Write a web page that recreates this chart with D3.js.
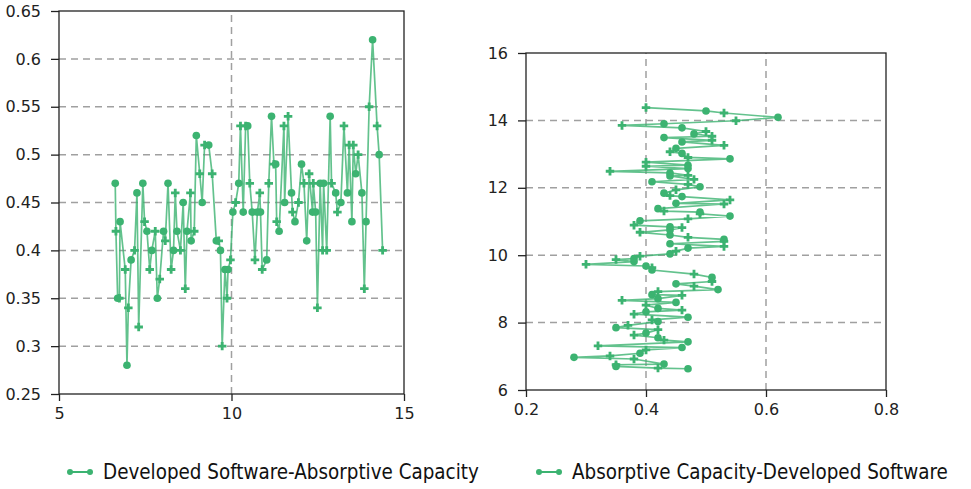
<!DOCTYPE html>
<html>
<head>
<meta charset="utf-8">
<script src="https://cdn.jsdelivr.net/npm/d3@7"></script>
<style>
  body { margin: 0; background: #fff; }
  svg { display: block; }
  .tick text { font-family: "DejaVu Sans", sans-serif; font-size: 16px; fill: #222; }
  .legend text { font-family: "DejaVu Sans Condensed", "DejaVu Sans", sans-serif; font-size: 20.4px; fill: #111; }
</style>
</head>
<body>
<script>
// time values (x on left chart, y on right chart)
const times = [6.63, 6.65, 6.70, 6.75, 6.77, 6.92, 6.97, 7.01, 7.09, 7.19, 7.26, 7.31, 7.43, 7.48, 7.55, 7.63,
    7.69, 7.79, 7.85, 7.92, 8.03, 8.08, 8.16, 8.25, 8.32, 8.37, 8.42, 8.52, 8.60, 8.66, 8.71, 8.81, 8.83, 8.92,
    8.98, 9.08, 9.15, 9.22, 9.34, 9.44, 9.56, 9.63, 9.68, 9.73, 9.81, 9.87, 9.90, 9.97, 10.04, 10.12, 10.21,
    10.26, 10.34, 10.41, 10.47, 10.53, 10.60, 10.68, 10.75, 10.82, 10.84, 10.89, 11.02, 11.08, 11.16, 11.23,
    11.28, 11.31, 11.38, 11.52, 11.54, 11.64, 11.74, 11.77, 11.84, 11.94, 12.03, 12.10, 12.18, 12.25, 12.35,
    12.37, 12.44, 12.49, 12.57, 12.64, 12.67, 12.76, 12.86, 12.90, 13.02, 13.07, 13.17, 13.26, 13.36, 13.41,
    13.49, 13.53, 13.60, 13.67, 13.78, 13.85, 13.90, 13.99, 14.09, 14.22, 14.28, 14.38];
// absorptive capacity / developed software values
const values = [0.47, 0.42, 0.35, 0.35, 0.43, 0.38, 0.28, 0.34, 0.39, 0.40, 0.46, 0.32, 0.47, 0.43, 0.42, 0.38,
    0.40, 0.42, 0.35, 0.37, 0.42, 0.41, 0.47, 0.38, 0.40, 0.46, 0.42, 0.40, 0.45, 0.36, 0.42, 0.46, 0.41, 0.42,
    0.52, 0.48, 0.45, 0.51, 0.51, 0.48, 0.41, 0.41, 0.40, 0.30, 0.38, 0.35, 0.38, 0.39, 0.44, 0.45, 0.47,
    0.53, 0.44, 0.53, 0.53, 0.47, 0.44, 0.39, 0.44, 0.46, 0.44, 0.38, 0.39, 0.47, 0.54, 0.49, 0.49, 0.43,
    0.42, 0.53, 0.45, 0.54, 0.46, 0.44, 0.43, 0.45, 0.49, 0.47, 0.41, 0.48, 0.44, 0.47, 0.44, 0.34, 0.47,
    0.40, 0.47, 0.40, 0.54, 0.47, 0.46, 0.44, 0.45, 0.53, 0.46, 0.51, 0.43, 0.51, 0.48, 0.50, 0.46, 0.36,
    0.43, 0.55, 0.62, 0.53, 0.50, 0.40];

const leftXTicks = [5, 10, 15];
const leftYTicks = [0.25, 0.3, 0.35, 0.4, 0.45, 0.5, 0.55, 0.6, 0.65];
const rightXTicks = [0.2, 0.4, 0.6, 0.8];
const rightYTicks = [6, 8, 10, 12, 14, 16];
const legendLabels = ["Developed Software-Absorptive Capacity", "Absorptive Capacity-Developed Software"];

const green = "#3cb371";
const width = 971, height = 489;

let svg = d3.select("body").append("svg")
    .attr("width", width)
    .attr("height", height);

const data = times.map((t, i) => ({ t: t, v: values[i] }));
const fmt = d => String(+d.toFixed(2));

function drawPanel(xScale, yScale, xTicks, yTicks, xGrid, yGrid, px, py) {
    const [x0, x1] = xScale.range();
    const [y0, y1] = yScale.range(); // y0 bottom, y1 top
    let g = svg.append("g");

    // dashed grid
    g.selectAll(".hgrid").data(yGrid).enter().append("line")
        .attr("x1", x0).attr("x2", x1)
        .attr("y1", d => yScale(d)).attr("y2", d => yScale(d))
        .attr("stroke", "#a0a0a0").attr("stroke-width", 1.5).attr("stroke-dasharray", "7,5");
    g.selectAll(".vgrid").data(xGrid).enter().append("line")
        .attr("y1", y0).attr("y2", y1)
        .attr("x1", d => xScale(d)).attr("x2", d => xScale(d))
        .attr("stroke", "#a0a0a0").attr("stroke-width", 1.5).attr("stroke-dasharray", "7,5");

    // line + markers
    let line = d3.line().x(px).y(py);
    g.append("path").datum(data)
        .attr("d", line)
        .attr("fill", "none")
        .attr("stroke", green)
        .attr("stroke-opacity", 0.8)
        .attr("stroke-width", 1.7);

    g.selectAll(".pt").data(data).enter().append("path")
        .attr("transform", d => "translate(" + px(d) + "," + py(d) + ")")
        .attr("d", (d, i) => d3.symbol().type(i % 2 ? d3.symbolCross : d3.symbolCircle).size(i % 2 ? 40 : 46)())
        .attr("fill", green);

    // frame
    g.append("rect")
        .attr("x", x0).attr("y", y1)
        .attr("width", x1 - x0).attr("height", y0 - y1)
        .attr("fill", "none").attr("stroke", "#222").attr("stroke-width", 1.3);

    // axes
    let xa = g.append("g").attr("transform", "translate(0," + y0 + ")")
        .call(d3.axisBottom(xScale).tickValues(xTicks).tickFormat(fmt).tickSize(7).tickPadding(7));
    let ya = g.append("g").attr("transform", "translate(" + x0 + ",0)")
        .call(d3.axisLeft(yScale).tickValues(yTicks).tickFormat(fmt).tickSize(8).tickPadding(10));
    [xa, ya].forEach(a => {
        a.select(".domain").remove();
        a.selectAll(".tick line").attr("stroke", "#222").attr("stroke-width", 1.3);
        a.attr("font-family", null).attr("font-size", null);
    });
}

// left chart: time on x, value on y
let lx = d3.scaleLinear().domain([5, 15]).range([59, 404]);
let ly = d3.scaleLinear().domain([0.25, 0.65]).range([394, 11]);
drawPanel(lx, ly, leftXTicks, leftYTicks, [10], [0.3, 0.35, 0.4, 0.45, 0.5, 0.55, 0.6],
    d => lx(d.t), d => ly(d.v));

// right chart: value on x, time on y
let rx = d3.scaleLinear().domain([0.2, 0.8]).range([526, 886]);
let ry = d3.scaleLinear().domain([6, 16]).range([390, 53]);
drawPanel(rx, ry, rightXTicks, rightYTicks, [0.4, 0.6], [8, 10, 12, 14],
    d => rx(d.v), d => ry(d.t));

// legend
let legend = svg.append("g").attr("class", "legend");
const legendX = [68, 537];
legendLabels.forEach((label, i) => {
    let item = legend.append("g").attr("transform", "translate(" + legendX[i] + ",472)");
    item.append("line").attr("x1", 2).attr("x2", 22).attr("y1", 0).attr("y2", 0)
        .attr("stroke", green).attr("stroke-width", 2);
    item.selectAll("circle").data([2, 22]).enter().append("circle")
        .attr("cx", d => d).attr("cy", 0).attr("r", 3).attr("fill", green);
    item.append("text").attr("x", 35).attr("y", 7).text(label);
});
</script>
</body>
</html>
